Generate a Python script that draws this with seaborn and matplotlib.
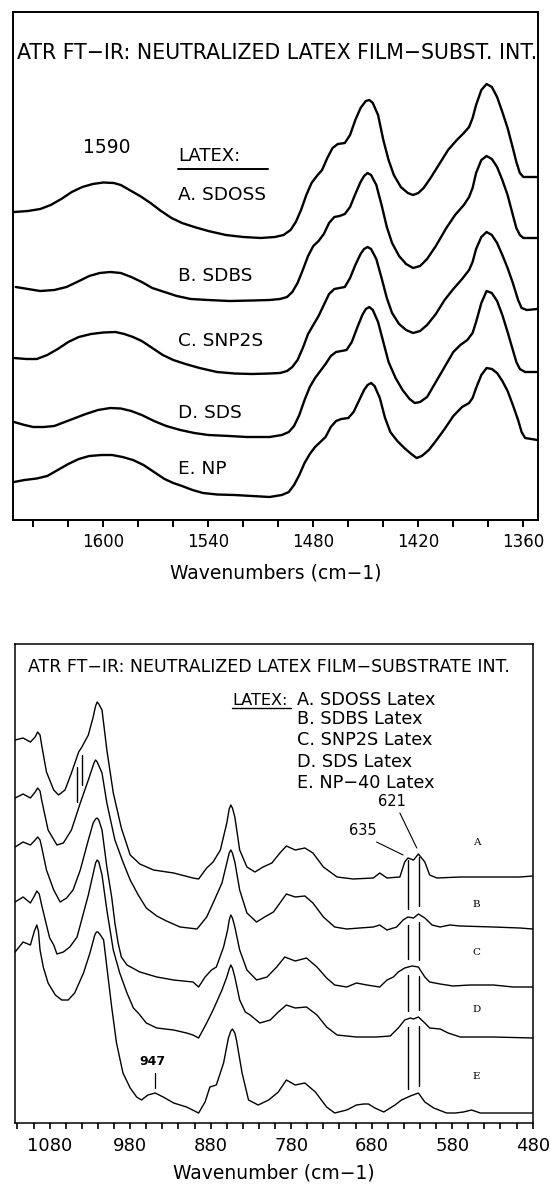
import numpy as np
import pandas as pd
import matplotlib
matplotlib.use("Agg")
import matplotlib.pyplot as plt
from matplotlib.ticker import MultipleLocator, FixedLocator
import seaborn as sns

# ---------------- top panel: 1650-1350 cm-1 ----------------
top_labels = ["A. SDOSS", "B. SDBS", "C. SNP2S", "D. SDS", "E. NP"]
top_ticks = [1600, 1540, 1480, 1420, 1360]

top_a_wn = [1651, 1643, 1636, 1630, 1624, 1618, 1612, 1606, 1600, 1594, 1590, 1585, 1579, 1573, 1567, 1561, 1555,
            1548, 1540, 1530, 1520, 1510, 1502, 1497, 1493, 1490, 1487, 1484, 1481, 1478, 1475, 1472, 1469, 1466,
            1462, 1459, 1456, 1453, 1450, 1448, 1446, 1443, 1440, 1437, 1434, 1430, 1426, 1423, 1420, 1417, 1413,
            1408, 1403, 1398, 1394, 1391, 1389, 1387, 1384, 1381, 1378, 1375, 1372, 1369, 1366, 1364, 1362, 1360,
            1352]
top_a_abs = [3.08, 3.09, 3.11, 3.15, 3.21, 3.28, 3.33, 3.36, 3.375, 3.37, 3.35, 3.30, 3.24, 3.17, 3.09, 3.02, 2.97,
             2.93, 2.89, 2.85, 2.83, 2.82, 2.83, 2.85, 2.90, 2.98, 3.10, 3.25, 3.37, 3.44, 3.50, 3.62, 3.72, 3.76,
             3.77, 3.85, 4.00, 4.12, 4.19, 4.20, 4.17, 4.05, 3.80, 3.60, 3.45, 3.33, 3.27, 3.25, 3.27, 3.32, 3.42,
             3.56, 3.70, 3.80, 3.87, 3.93, 4.02, 4.15, 4.30, 4.36, 4.33, 4.23, 4.08, 3.92, 3.72, 3.58, 3.47, 3.43,
             3.43]

top_b_wn = [1650, 1643, 1636, 1628, 1621, 1615, 1608, 1602, 1596, 1590, 1584, 1578, 1572, 1565, 1558, 1550, 1540,
            1528, 1515, 1505, 1499, 1495, 1492, 1489, 1486, 1483, 1480, 1477, 1474, 1471, 1468, 1465, 1462, 1459,
            1456, 1453, 1451, 1449, 1447, 1444, 1441, 1438, 1435, 1431, 1427, 1423, 1419, 1415, 1410, 1404, 1399,
            1394, 1391, 1389, 1387, 1384, 1381, 1378, 1375, 1372, 1369, 1366, 1364, 1362, 1360, 1352]
top_b_abs = [2.33, 2.31, 2.29, 2.30, 2.33, 2.38, 2.44, 2.47, 2.48, 2.47, 2.43, 2.38, 2.32, 2.28, 2.24, 2.21, 2.20,
             2.19, 2.195, 2.20, 2.21, 2.23, 2.28, 2.37, 2.50, 2.64, 2.74, 2.79, 2.86, 2.97, 3.03, 3.04, 3.06, 3.13,
             3.26, 3.38, 3.44, 3.47, 3.45, 3.35, 3.15, 2.93, 2.77, 2.64, 2.56, 2.52, 2.54, 2.61, 2.74, 2.92, 3.05,
             3.15, 3.23, 3.32, 3.47, 3.60, 3.64, 3.61, 3.53, 3.40, 3.25, 3.05, 2.92, 2.85, 2.82, 2.82]

top_c_wn = [1651, 1644, 1638, 1632, 1626, 1620, 1614, 1607, 1600, 1593, 1588, 1583, 1578, 1572, 1566, 1560, 1553,
            1545, 1535, 1525, 1515, 1505, 1499, 1495, 1492, 1489, 1486, 1483, 1480, 1477, 1474, 1471, 1468, 1465,
            1462, 1459, 1456, 1453, 1451, 1449, 1447, 1444, 1441, 1438, 1435, 1431, 1427, 1423, 1419, 1415, 1410,
            1405, 1400, 1395, 1391, 1389, 1387, 1384, 1381, 1378, 1375, 1372, 1369, 1366, 1363, 1361, 1358, 1352]
top_c_abs = [1.62, 1.61, 1.61, 1.65, 1.71, 1.78, 1.83, 1.86, 1.875, 1.88, 1.86, 1.83, 1.79, 1.72, 1.65, 1.60, 1.56,
             1.52, 1.48, 1.465, 1.46, 1.465, 1.47, 1.49, 1.53, 1.60, 1.72, 1.86, 1.95, 2.04, 2.15, 2.26, 2.31, 2.32,
             2.33, 2.42, 2.55, 2.66, 2.71, 2.73, 2.71, 2.61, 2.42, 2.22, 2.07, 1.96, 1.90, 1.87, 1.89, 1.95, 2.06,
             2.20, 2.31, 2.41, 2.50, 2.58, 2.71, 2.83, 2.88, 2.85, 2.77, 2.65, 2.52, 2.37, 2.20, 2.12, 2.10, 2.11]

top_d_wn = [1651, 1645, 1640, 1634, 1628, 1622, 1616, 1610, 1603, 1596, 1590, 1584, 1578, 1571, 1564, 1556, 1548,
            1540, 1528, 1518, 1505, 1498, 1494, 1491, 1488, 1485, 1482, 1479, 1476, 1473, 1470, 1467, 1464, 1461,
            1458, 1455, 1452, 1450, 1448, 1446, 1443, 1440, 1437, 1433, 1429, 1425, 1422, 1419, 1415, 1410, 1405,
            1400, 1396, 1392, 1389, 1387, 1384, 1381, 1378, 1375, 1372, 1369, 1366, 1364, 1362, 1359, 1352]
top_d_abs = [0.98, 0.95, 0.93, 0.93, 0.94, 0.98, 1.02, 1.06, 1.10, 1.12, 1.115, 1.09, 1.05, 0.99, 0.94, 0.90, 0.87,
             0.85, 0.84, 0.83, 0.83, 0.85, 0.88, 0.94, 1.05, 1.20, 1.33, 1.42, 1.49, 1.56, 1.64, 1.68, 1.69, 1.70,
             1.78, 1.92, 2.05, 2.11, 2.13, 2.10, 1.98, 1.78, 1.58, 1.42, 1.30, 1.21, 1.17, 1.18, 1.23, 1.38, 1.53,
             1.68, 1.75, 1.80, 1.87, 1.98, 2.17, 2.29, 2.27, 2.19, 2.05, 1.88, 1.70, 1.58, 1.51, 1.48, 1.48]

top_e_wn = [1651, 1645, 1638, 1632, 1626, 1620, 1614, 1608, 1601, 1595, 1589, 1583, 1577, 1571, 1565, 1560, 1555,
            1549, 1543, 1535, 1525, 1515, 1505, 1498, 1494, 1491, 1488, 1485, 1482, 1479, 1476, 1473, 1470, 1467,
            1464, 1460, 1457, 1454, 1451, 1449, 1447, 1445, 1442, 1439, 1436, 1432, 1428, 1424, 1421, 1418, 1414,
            1410, 1405, 1400, 1395, 1391, 1389, 1387, 1384, 1381, 1378, 1375, 1372, 1369, 1366, 1363, 1361, 1359,
            1352]
top_e_abs = [0.38, 0.40, 0.415, 0.44, 0.50, 0.56, 0.61, 0.64, 0.65, 0.65, 0.63, 0.60, 0.55, 0.48, 0.41, 0.37, 0.34,
             0.30, 0.27, 0.255, 0.25, 0.24, 0.23, 0.25, 0.28, 0.35, 0.45, 0.57, 0.66, 0.73, 0.78, 0.83, 0.93, 0.99,
             1.01, 1.02, 1.08, 1.19, 1.30, 1.35, 1.37, 1.34, 1.22, 1.02, 0.88, 0.79, 0.72, 0.66, 0.62, 0.64, 0.70,
             0.79, 0.91, 1.04, 1.13, 1.17, 1.22, 1.32, 1.45, 1.52, 1.51, 1.47, 1.39, 1.29, 1.15, 1.00, 0.88, 0.82,
             0.80]

# ---------------- bottom panel: 1120-480 cm-1 ----------------
bot_letters = ["A", "B", "C", "D", "E"]
bot_legend = ["A. SDOSS Latex", "B. SDBS Latex", "C. SNP2S Latex", "D. SDS Latex", "E. NP\u221240 Latex"]
bot_ticks = [1080, 980, 880, 780, 680, 580, 480]
marked_bands = [635, 621]

bot_a_wn = [1123, 1113, 1104, 1098, 1095, 1092, 1090, 1084, 1075, 1069, 1061, 1053, 1044, 1040, 1032, 1026, 1023,
            1021, 1019, 1015, 1009, 1001, 991, 980, 968, 951, 926, 902, 895, 885, 877, 868, 860, 857, 855, 853,
            850, 844, 835, 825, 815, 804, 794, 786, 775, 763, 753, 740, 723, 703, 678, 670, 661, 645, 639, 635,
            628, 622, 614, 608, 599, 570, 529, 496, 480]
bot_a_abs = [3.83, 3.85, 3.81, 3.86, 3.91, 3.88, 3.78, 3.51, 3.33, 3.28, 3.33, 3.50, 3.71, 3.76, 3.88, 4.06, 4.17,
             4.21, 4.19, 4.13, 3.73, 3.30, 2.95, 2.68, 2.59, 2.53, 2.50, 2.45, 2.44, 2.55, 2.61, 2.73, 3.00, 3.14,
             3.18, 3.15, 3.06, 2.73, 2.56, 2.51, 2.56, 2.60, 2.70, 2.77, 2.73, 2.75, 2.70, 2.56, 2.46, 2.44, 2.45,
             2.50, 2.45, 2.46, 2.61, 2.65, 2.63, 2.69, 2.61, 2.48, 2.45, 2.46, 2.46, 2.46, 2.47]

bot_b_wn = [1123, 1113, 1104, 1098, 1095, 1092, 1090, 1082, 1071, 1063, 1053, 1042, 1032, 1025, 1023, 1021, 1015,
            1009, 999, 989, 980, 970, 960, 947, 935, 918, 897, 885, 877, 866, 860, 857, 855, 853, 850, 844, 835,
            823, 813, 802, 794, 786, 775, 763, 753, 740, 726, 711, 695, 678, 670, 661, 649, 641, 635, 628, 622,
            614, 605, 595, 583, 570, 529, 496, 480]
bot_b_abs = [3.25, 3.29, 3.25, 3.31, 3.35, 3.32, 3.23, 2.93, 2.78, 2.80, 2.93, 3.20, 3.43, 3.60, 3.63, 3.61, 3.50,
             3.20, 2.83, 2.61, 2.43, 2.28, 2.15, 2.07, 2.02, 1.96, 1.94, 2.06, 2.20, 2.40, 2.60, 2.70, 2.73, 2.70,
             2.61, 2.33, 2.10, 2.01, 2.06, 2.11, 2.20, 2.29, 2.26, 2.27, 2.20, 2.06, 1.96, 1.94, 1.95, 1.96, 1.98,
             1.93, 1.96, 2.03, 2.06, 2.05, 2.09, 2.05, 1.98, 1.96, 1.98, 1.97, 1.96, 1.95, 1.94]

bot_c_wn = [1123, 1113, 1104, 1098, 1095, 1092, 1090, 1084, 1075, 1067, 1059, 1051, 1042, 1032, 1026, 1023, 1021,
            1019, 1015, 1009, 1003, 999, 995, 991, 984, 968, 947, 926, 902, 895, 887, 879, 873, 864, 859, 857, 855,
            853, 850, 844, 835, 823, 810, 798, 788, 775, 761, 748, 736, 726, 711, 699, 686, 670, 661, 653, 647,
            639, 630, 622, 614, 608, 595, 579, 558, 529, 504, 480]
bot_c_abs = [2.76, 2.81, 2.78, 2.83, 2.86, 2.83, 2.76, 2.53, 2.33, 2.21, 2.25, 2.33, 2.53, 2.83, 3.00, 3.04, 3.05,
             3.03, 2.93, 2.56, 2.26, 2.00, 1.80, 1.66, 1.58, 1.51, 1.46, 1.43, 1.41, 1.36, 1.46, 1.53, 1.56, 1.76,
             1.93, 2.03, 2.08, 2.05, 1.96, 1.73, 1.53, 1.43, 1.46, 1.56, 1.66, 1.62, 1.65, 1.56, 1.45, 1.38, 1.36,
             1.40, 1.38, 1.36, 1.43, 1.46, 1.51, 1.55, 1.57, 1.56, 1.46, 1.41, 1.39, 1.37, 1.38, 1.38, 1.36, 1.36]

bot_d_wn = [1123, 1113, 1104, 1099, 1096, 1093, 1090, 1084, 1080, 1075, 1071, 1063, 1055, 1046, 1042, 1032, 1023,
            1021, 1019, 1015, 1009, 1001, 993, 984, 976, 970, 960, 947, 926, 910, 902, 895, 885, 877, 866, 860,
            857, 855, 853, 850, 844, 837, 831, 819, 806, 796, 786, 775, 761, 748, 736, 723, 699, 674, 657, 647,
            639, 632, 628, 622, 614, 608, 595, 585, 570, 529, 480]
bot_d_abs = [2.21, 2.26, 2.20, 2.27, 2.32, 2.29, 2.18, 1.98, 1.85, 1.78, 1.69, 1.71, 1.76, 1.86, 1.98, 2.28, 2.60,
             2.63, 2.61, 2.48, 2.13, 1.73, 1.50, 1.30, 1.15, 1.10, 1.00, 0.95, 0.93, 0.90, 0.88, 0.85, 1.00, 1.13,
             1.33, 1.46, 1.54, 1.58, 1.55, 1.46, 1.23, 1.11, 1.08, 1.00, 1.03, 1.11, 1.18, 1.15, 1.16, 1.08, 0.96,
             0.88, 0.86, 0.86, 0.87, 0.95, 1.03, 1.05, 1.04, 1.06, 1.00, 0.95, 0.94, 0.90, 0.86, 0.86, 0.85]

bot_e_wn = [1123, 1113, 1104, 1099, 1096, 1094, 1092, 1088, 1082, 1073, 1065, 1057, 1049, 1038, 1030, 1024, 1022,
            1020, 1017, 1013, 1009, 1003, 997, 989, 980, 972, 966, 958, 949, 939, 926, 910, 895, 887, 881, 873,
            864, 858, 855, 853, 850, 848, 841, 833, 821, 808, 796, 786, 775, 763, 750, 736, 726, 711, 699, 690,
            684, 676, 665, 651, 643, 632, 622, 614, 603, 587, 576, 566, 556, 545, 521, 480]
bot_e_abs = [1.71, 1.81, 1.78, 1.92, 1.98, 1.92, 1.73, 1.56, 1.40, 1.28, 1.23, 1.23, 1.30, 1.50, 1.70, 1.88, 1.91,
             1.91, 1.88, 1.83, 1.56, 1.16, 0.80, 0.50, 0.35, 0.26, 0.23, 0.28, 0.30, 0.26, 0.20, 0.16, 0.10, 0.21,
             0.36, 0.38, 0.60, 0.85, 0.92, 0.94, 0.90, 0.83, 0.50, 0.23, 0.18, 0.23, 0.31, 0.43, 0.38, 0.40, 0.31,
             0.16, 0.10, 0.13, 0.18, 0.19, 0.19, 0.15, 0.11, 0.18, 0.23, 0.27, 0.30, 0.21, 0.15, 0.10, 0.10, 0.11,
             0.13, 0.10, 0.10, 0.10]


def long_frame(names, wns, values):
    parts = []
    for name, wn, val in zip(names, wns, values):
        parts.append(pd.DataFrame({"wavenumber": wn, "absorbance": val, "sample": name}))
    return pd.concat(parts, ignore_index=True)


top_df = long_frame(top_labels,
                    [top_a_wn, top_b_wn, top_c_wn, top_d_wn, top_e_wn],
                    [top_a_abs, top_b_abs, top_c_abs, top_d_abs, top_e_abs])
bot_wns = [bot_a_wn, bot_b_wn, bot_c_wn, bot_d_wn, bot_e_wn]
bot_vals = [bot_a_abs, bot_b_abs, bot_c_abs, bot_d_abs, bot_e_abs]
bot_df = long_frame(bot_letters, bot_wns, bot_vals)


def at(wn_list, val_list, x):
    return float(np.interp(x, wn_list[::-1], val_list[::-1]))


sns.set_style("white")
plt.rcParams["font.family"] = ["DejaVu Sans"]
plt.rcParams["axes.edgecolor"] = "black"
plt.rcParams["text.color"] = "black"
plt.rcParams["axes.labelcolor"] = "black"
plt.rcParams["xtick.color"] = "black"
plt.rcParams["xtick.labelcolor"] = "black"

fig = plt.figure(figsize=(5.51, 11.86), dpi=100)
ax1 = fig.add_axes([0.02414, 0.56155, 0.9514, 0.42833])
ax2 = fig.add_axes([0.02722, 0.05312, 0.93956, 0.40388])

# ---- top panel ----
sns.lineplot(data=top_df, x="wavenumber", y="absorbance", hue="sample", palette=["black"] * 5,
             estimator=None, legend=False, linewidth=1.7, ax=ax1)
ax1.set_xlim(1651.4, 1351.9)
ax1.set_ylim(0, 5.08)
ax1.set_yticks([])
ax1.set_ylabel("")
ax1.xaxis.set_major_locator(FixedLocator(top_ticks))
ax1.xaxis.set_minor_locator(MultipleLocator(20))
ax1.tick_params(axis="x", which="both", direction="out", length=5, width=1.4, bottom=True, color="black")
ax1.tick_params(axis="x", which="major", labelsize=12, pad=4)
ax1.set_xlabel("Wavenumbers (cm\u22121)", fontsize=13.5, labelpad=9)
for sp in ax1.spines.values():
    sp.set_linewidth(1.4)
    sp.set_color("black")

ax1.text(0.0067, 0.920, "ATR FT\u2212IR: NEUTRALIZED LATEX FILM\u2212SUBST. INT.", transform=ax1.transAxes,
         fontsize=14.8, va="center", ha="left", clip_on=False)
ax1.text(0.178, 0.734, "1590", transform=ax1.transAxes, fontsize=13.5, ha="center", va="center")
ax1.text(0.315, 0.717, "LATEX:", transform=ax1.transAxes, fontsize=13, ha="left", va="center")
ax1.plot([0.315, 0.486], [0.691, 0.691], transform=ax1.transAxes, color="black", lw=1.4)
top_label_y = [0.640, 0.480, 0.352, 0.211, 0.100]
for name, yy in zip(top_labels, top_label_y):
    ax1.text(0.315, yy, name, transform=ax1.transAxes, fontsize=13.3, ha="left", va="center")

# ---- bottom panel ----
sns.lineplot(data=bot_df, x="wavenumber", y="absorbance", hue="sample", palette=["black"] * 5,
             estimator=None, legend=False, linewidth=1.0, ax=ax2)
ax2.set_xlim(1123.1, 480)
ax2.set_ylim(0, 4.79)
ax2.set_yticks([])
ax2.set_ylabel("")
ax2.xaxis.set_major_locator(FixedLocator(bot_ticks))
ax2.xaxis.set_minor_locator(MultipleLocator(20))
ax2.tick_params(axis="x", which="both", direction="out", length=4, width=1.2, bottom=True, color="black")
ax2.tick_params(axis="x", which="major", labelsize=13, pad=6)
ax2.set_xlabel("Wavenumber (cm\u22121)", fontsize=13.5, labelpad=6)
for sp in ax2.spines.values():
    sp.set_linewidth(1.1)
    sp.set_color("black")

ax2.text(0.026, 0.953, "ATR FT\u2212IR: NEUTRALIZED LATEX FILM\u2212SUBSTRATE INT.", transform=ax2.transAxes,
         fontsize=12.55, va="center", ha="left")
ax2.text(0.420, 0.883, "LATEX:", transform=ax2.transAxes, fontsize=11.5, ha="left", va="center")
ax2.plot([0.420, 0.533], [0.866, 0.866], transform=ax2.transAxes, color="black", lw=1.0)
leg_y = [0.883, 0.843, 0.800, 0.754, 0.710]
for name, yy in zip(bot_legend, leg_y):
    ax2.text(0.544, yy, name, transform=ax2.transAxes, fontsize=12.7, ha="left", va="center")

# double marker lines at 635 / 621 running through all spectra
for band in marked_bands:
    for i in range(4):
        y_hi = at(bot_wns[i], bot_vals[i], band) - (0.02 if i == 0 else 0.08)
        y_lo = at(bot_wns[i + 1], bot_vals[i + 1], band) + 0.08
        ax2.plot([band, band], [y_lo, y_hi], color="black", lw=1.0)

a_621 = at(bot_a_wn, bot_a_abs, 621)
a_635 = at(bot_a_wn, bot_a_abs, 635)
ax2.plot([645, 624], [3.10, a_621 + 0.07], color="black", lw=0.8)
ax2.plot([674, 641], [2.81, a_635 + 0.03], color="black", lw=0.8)
ax2.text(655, 3.21, "621", fontsize=10.5, ha="center", va="center")
ax2.text(691, 2.92, "635", fontsize=10.5, ha="center", va="center")

# short marks on the 1040 shoulder
ax2.plot([1046, 1046], [3.21, 3.56], color="black", lw=1.0)
ax2.plot([1040, 1040], [3.38, 3.68], color="black", lw=1.0)

# 947 band of NP-40 latex
e_947 = at(bot_e_wn, bot_e_abs, 949)
ax2.plot([949, 949], [e_947 + 0.05, e_947 + 0.20], color="black", lw=0.9)
ax2.text(952, e_947 + 0.31, "947", fontsize=9, fontweight="bold", ha="center", va="center")

letter_y = [2.80, 2.18, 1.70, 1.13, 0.46]
for name, yy in zip(bot_letters, letter_y):
    ax2.text(550, yy, name, fontsize=7.5, family=["DejaVu Serif"], ha="center", va="center")

fig.savefig("out.png", dpi=100)
